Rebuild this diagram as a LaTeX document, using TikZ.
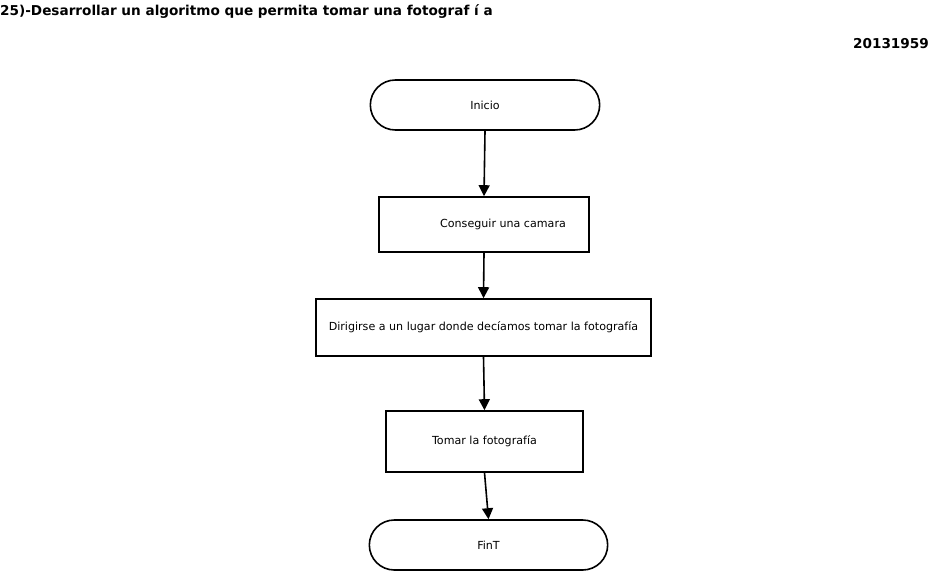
\documentclass[tikz,border=0pt]{standalone}
\usepackage{fontspec}
\setmainfont{DejaVu Sans}
\usepackage{tikz}
\usetikzlibrary{%
  positioning
 ,arrows.meta
 ,shapes.misc
}
\tikzstyle{flow}=[x=1pt,y=1pt,node distance=100pt,on grid,font=\fontsize{11.1}{13}\selectfont]
\tikzstyle{term}=[rounded rectangle,draw=black,line width=1.6pt,fill=white,minimum height=50pt]
\tikzstyle{proc}=[rectangle,draw=black,line width=1.6pt,fill=white]
\tikzstyle{arr}=[-{Triangle[length=11pt,width=11pt]},line width=1.6pt]
\tikzstyle{head}=[inner sep=0pt,font=\bfseries\fontsize{13.6}{16}\selectfont]

\begin{document}
\begin{tikzpicture}[flow]
  \useasboundingbox (0,0) rectangle (936,-572);
  \node[head,anchor=north west] (titulo) at (0,-4)
    {25)-Desarrollar un algoritmo que permita tomar una fotograf í a};
  \node[head,anchor=north east] (codigo) at (929,-38) {20131959};
%
  \node[term,minimum width=236pt] (inicio) at (485,-105) {Inicio};
  \node[proc,minimum width=210pt,minimum height=55pt] (camara) [below=119.5pt of inicio,xshift=-1pt]
    {\hspace*{38pt}Conseguir una camara};
  \node[proc,minimum width=335pt,minimum height=57pt] (lugar) [below=103pt of camara,xshift=-0.5pt]
    {Dirigirse a un lugar donde decíamos tomar la fotografía};
  \node[proc,minimum width=197pt,minimum height=61pt] (foto) [below=114pt of lugar,xshift=1pt]
    {Tomar la fotografía};
  \node[term,minimum width=245pt] (fin) [below=103.5pt of foto,xshift=4pt] {FinT};
%
  \draw[arr] (inicio.south) -- (camara.north);
  \draw[arr] (camara.south) -- (lugar.north);
  \draw[arr] (lugar.south) -- (foto.north);
  \draw[arr] (foto.south) -- (fin.north);
\end{tikzpicture}
\end{document}
